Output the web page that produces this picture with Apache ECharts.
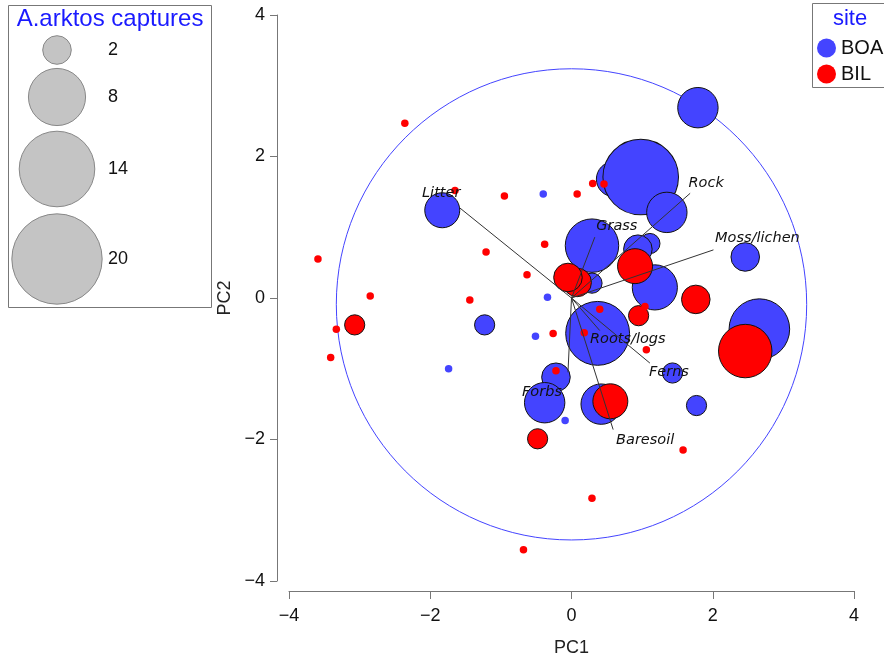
<!DOCTYPE html>
<html>
<head>
<meta charset="utf-8">
<script src="https://cdn.jsdelivr.net/npm/echarts@6/dist/echarts.min.js"></script>
<style>html,body{margin:0;padding:0;background:#fff}#c{width:884px;height:662px}</style>
</head>
<body>
<div id="c"></div>
<script>
// ---- data ----
const siteNames = ['BOA', 'BIL'];
const boaPC1 = [-1.83, 0.60, 0.98, 1.35, 1.79, 0.29, 1.11, 0.94, 0.29, 1.18, 2.46, 2.66, 0.37, 1.43, 1.77, 0.42, -0.22, -0.38, -1.23, -0.40, -0.34, -0.51, -1.74, -0.09];
const boaPC2 = [1.24, 1.68, 1.71, 1.21, 2.69, 0.74, 0.77, 0.69, 0.21, 0.15, 0.58, -0.44, -0.50, -1.06, -1.52, -1.50, -1.12, -1.48, -0.38, 1.47, 0.01, -0.54, -1.00, -1.73];
const boaCaptures = [3, 3, 14, 4, 4, 7, 1, 2, 1, 5, 2, 9, 10, 1, 1, 4, 2, 4, 1, 0, 0, 0, 0, 0];
const bilPC1 = [0.08, -0.05, 0.90, 1.76, 0.95, -3.07, -0.48, 2.46, 0.55, -2.36, -1.65, -0.95, 0.08, 0.30, 0.46, -0.38, -1.21, -0.63, -3.59, -2.85, -1.44, -3.33, -0.26, 0.18, -3.41, -0.22, 0.40, 1.04, 1.06, 1.58, 0.29, -0.68];
const bilPC2 = [0.22, 0.29, 0.45, -0.02, -0.25, -0.38, -1.99, -0.75, -1.46, 2.47, 1.52, 1.44, 1.47, 1.62, 1.61, 0.76, 0.65, 0.33, 0.55, 0.03, -0.03, -0.44, -0.50, -0.49, -0.84, -1.03, -0.16, -0.12, -0.73, -2.15, -2.83, -3.56];
const bilCaptures = [2, 2, 3, 2, 1, 1, 1, 7, 3, 0, 0, 0, 0, 0, 0, 0, 0, 0, 0, 0, 0, 0, 0, 0, 0, 0, 0, 0, 0, 0, 0, 0];
const varNames = ['Litter', 'Rock', 'Grass', 'Moss/lichen', 'Roots/logs', 'Ferns', 'Baresoil', 'Forbs'];
const varPC1 = [-1.59, 1.68, 0.33, 2.01, 0.40, 1.11, 0.59, -0.05];
const varPC2 = [1.28, 1.48, 0.86, 0.68, -0.46, -0.92, -1.86, -1.05];
const circleCenter = [0, -0.09];
const circleRadius = 3.33;
const sizeLegendValues = [2, 8, 14, 20];
const xTicks = [-4, -2, 0, 2, 4];
const yTicks = [-4, -2, 0, 2, 4];

// ---- styles / layout ----
const BLUE = '#4444ff', RED = '#ff0000';
const R_SCALE = 10.1;
const labelOffsets = [[-18, -14], [16, -10], [22, -11], [44, -12], [28, 9], [19, 9], [32, 11], [-26, 20]];
function sizeOf(n) { return n === 0 ? 7.5 : 2 * R_SCALE * Math.sqrt(n); }
function buildData(xs, ys, ns) {
  return xs.map((x, i) => ({
    value: [x, ys[i], ns[i]],
    itemStyle: { borderWidth: ns[i] > 0 ? 1 : 0, borderColor: '#111' }
  }));
}

const chart = echarts.init(document.getElementById('c'), null, { renderer: 'canvas' });
const FONT = 'Liberation Sans, Arial, sans-serif';

const legendCx = 57, legendCys = [50, 97, 169, 259];
const graphics = [
  { type: 'rect', shape: { x: 8.5, y: 5.5, width: 203, height: 302 }, style: { fill: 'none', stroke: '#777', lineWidth: 1 } },
  { type: 'text', x: 110, y: 19, style: { text: 'A.arktos captures', fill: '#1a1aff', font: '24px ' + FONT, textAlign: 'center', textVerticalAlign: 'middle' } },
  { type: 'rect', shape: { x: 812.5, y: 3.5, width: 80, height: 84 }, style: { fill: 'none', stroke: '#777', lineWidth: 1 } },
  { type: 'text', x: 850, y: 19, style: { text: 'site', fill: '#1a1aff', font: '22px ' + FONT, textAlign: 'center', textVerticalAlign: 'middle' } }
];
sizeLegendValues.forEach((v, i) => {
  graphics.push({ type: 'circle', shape: { cx: legendCx, cy: legendCys[i], r: sizeOf(v) / 2 }, style: { fill: '#c4c4c4', stroke: '#888', lineWidth: 1 } });
  graphics.push({ type: 'text', x: 108, y: legendCys[i], style: { text: String(v), fill: '#111', font: '18px ' + FONT, textAlign: 'left', textVerticalAlign: 'middle' } });
});

const option = {
  animation: false,
  backgroundColor: '#fff',
  grid: { left: 289, top: 15, width: 565, height: 566, containLabel: false },
  xAxis: {
    type: 'value', min: -4, max: 4, interval: 2, offset: 10,
    name: 'PC1', nameLocation: 'middle', nameGap: 48,
    nameTextStyle: { fontFamily: FONT, fontSize: 18, color: '#222' },
    axisLine: { show: true, onZero: false, lineStyle: { color: '#777', width: 1 } },
    axisTick: { show: true, length: 8, lineStyle: { color: '#777' } },
    axisLabel: { fontFamily: FONT, fontSize: 18, color: '#111', margin: 16, formatter: v => xTicks.includes(v) ? String(v).replace('-', '\u2212') : '' },
    splitLine: { show: false }
  },
  yAxis: {
    type: 'value', min: -4, max: 4, interval: 2, offset: 12,
    name: 'PC2', nameLocation: 'middle', nameGap: 37, nameRotate: 90,
    nameTextStyle: { fontFamily: FONT, fontSize: 18, color: '#222' },
    axisLine: { show: true, onZero: false, lineStyle: { color: '#777', width: 1 } },
    axisTick: { show: true, length: 7, lineStyle: { color: '#777' } },
    axisLabel: { fontFamily: FONT, fontSize: 18, color: '#111', margin: 12, formatter: v => yTicks.includes(v) ? String(v).replace('-', '\u2212') : '' },
    splitLine: { show: false }
  },
  legend: {
    data: siteNames, orient: 'vertical', left: 812, top: 33, itemWidth: 19, itemHeight: 19, itemGap: 6,
    icon: 'circle', itemStyle: { borderWidth: 0 },
    textStyle: { fontFamily: FONT, fontSize: 20, color: '#111', padding: [0, 0, 0, 0] }
  },
  graphic: graphics,
  series: [
    {
      type: 'custom', z: 1, silent: true,
      data: [[circleCenter[0], circleCenter[1], circleRadius]],
      renderItem: (params, api) => {
        const c = api.coord([api.value(0), api.value(1)]);
        const s = api.size([api.value(2), api.value(2)]);
        return { type: 'ellipse', shape: { cx: c[0], cy: c[1], rx: s[0], ry: s[1] }, style: { fill: 'none', stroke: BLUE, lineWidth: 1 } };
      }
    },
    {
      name: 'BOA', type: 'scatter', z: 2, symbol: 'circle',
      symbolSize: v => sizeOf(v[2]),
      itemStyle: { color: BLUE, opacity: 1 },
      emphasis: { disabled: true },
      data: buildData(boaPC1, boaPC2, boaCaptures)
    },
    {
      name: 'BIL', type: 'scatter', z: 3, symbol: 'circle',
      symbolSize: v => sizeOf(v[2]),
      itemStyle: { color: RED, opacity: 1 },
      emphasis: { disabled: true },
      data: buildData(bilPC1, bilPC2, bilCaptures)
    },
    {
      type: 'custom', z: 4, silent: true,
      data: varPC1.map((x, i) => [x, varPC2[i], i]),
      renderItem: (params, api) => {
        const i = api.value(2);
        const o = api.coord([0, 0]);
        const e = api.coord([api.value(0), api.value(1)]);
        const off = labelOffsets[i];
        return {
          type: 'group', children: [
            { type: 'line', shape: { x1: o[0], y1: o[1], x2: e[0], y2: e[1] }, style: { stroke: '#333', lineWidth: 1 } },
            { type: 'text', x: e[0] + off[0], y: e[1] + off[1], style: { text: varNames[i], fill: '#111', font: 'italic 14.5px DejaVu Sans, sans-serif', textAlign: 'center', textVerticalAlign: 'middle' } }
          ]
        };
      }
    }
  ]
};
chart.setOption(option);
</script>
</body>
</html>
